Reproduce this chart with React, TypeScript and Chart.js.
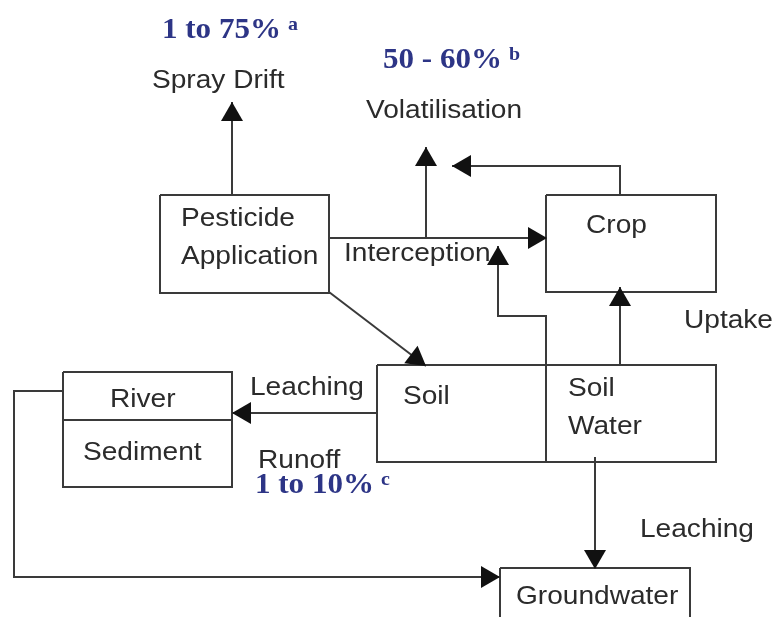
import React, { useEffect, useRef } from "react";
import { Chart, registerables } from "chart.js";

Chart.register(...registerables);

// Diagram coordinates (reference picture units: x 0..774, y 0..617 from top)
const boxNames = ["Pesticide", "Crop", "Soil", "River", "Groundwater"];
const boxRects: number[][] = [
  [160, 195, 329, 293],
  [546, 195, 716, 292],
  [377, 365, 716, 462],
  [63, 372, 232, 487],
  [500, 568, 690, 640],
];
const dividers: number[][][] = [
  [[546, 365], [546, 462]],
  [[63, 420], [232, 420]],
];
const arrowNames = [
  "Spray drift",
  "Interception",
  "Volatilisation (interception)",
  "Volatilisation (crop)",
  "Soil water to interception",
  "Uptake",
  "Application to soil",
  "Leaching to river",
  "River to groundwater",
  "Leaching to groundwater",
];
const arrowPaths: number[][][] = [
  [[232, 195], [232, 102]],
  [[329, 238], [547, 238]],
  [[426, 238], [426, 147]],
  [[620, 195], [620, 166], [452, 166]],
  [[546, 365], [546, 316], [498, 316], [498, 246]],
  [[620, 365], [620, 287]],
  [[329, 292], [426, 366]],
  [[377, 413], [232, 413]],
  [[63, 391], [14, 391], [14, 577], [500, 577]],
  [[595, 457], [595, 569]],
];
const labelTexts = [
  "Spray Drift", "Volatilisation", "Pesticide", "Application", "Interception",
  "Crop", "Uptake", "Leaching", "River", "Sediment", "Soil", "Soil", "Water",
  "Runoff", "Leaching", "Groundwater",
];
const labelX = [152, 366, 181, 181, 344, 586, 684, 250, 110, 83, 403, 568, 568, 258, 640, 516];
const labelY = [81, 111, 219, 257, 254, 226, 321, 388, 400, 453, 397, 389, 427, 461, 530, 597];
const shareTexts = ["1 to 75%", "50 - 60%", "1 to 10%"];
const shareNotes = ["a", "b", "c"];
const shareX = [162, 383, 255];
const shareBaseY = [38, 68, 493];

const LINE = "#3a3a3a";
const TEXT = "#2b2b2b";
const BLUE = "#2d3586";

function rectPath(r: number[]) {
  return [
    { x: r[0], y: r[1] },
    { x: r[2], y: r[1] },
    { x: r[2], y: r[3] },
    { x: r[0], y: r[3] },
    { x: r[0], y: r[1] },
  ];
}

function stretchText(ctx: CanvasRenderingContext2D, t: string, x: number, y: number, sx: number) {
  ctx.save();
  ctx.translate(x, y);
  ctx.scale(sx, 1);
  ctx.fillText(t, 0, 0);
  ctx.restore();
  return ctx.measureText(t).width * sx;
}

const arrowHeadPlugin = {
  id: "arrowHeads",
  afterDatasetsDraw(chart: any) {
    const ctx = chart.ctx;
    chart.data.datasets.forEach((ds: any, i: number) => {
      if (!ds.arrow) return;
      const meta = chart.getDatasetMeta(i);
      const pts = meta.data;
      const n = pts.length;
      const a = pts[n - 2];
      const b = pts[n - 1];
      const ang = Math.atan2(b.y - a.y, b.x - a.x);
      const L = 19;
      const W = 11;
      ctx.save();
      ctx.fillStyle = "#111";
      ctx.beginPath();
      ctx.moveTo(b.x, b.y);
      ctx.lineTo(b.x - L * Math.cos(ang) + W * Math.sin(ang), b.y - L * Math.sin(ang) - W * Math.cos(ang));
      ctx.lineTo(b.x - L * Math.cos(ang) - W * Math.sin(ang), b.y - L * Math.sin(ang) + W * Math.cos(ang));
      ctx.closePath();
      ctx.fill();
      ctx.restore();
    });
  },
};

const labelPlugin = {
  id: "diagramLabels",
  afterDraw(chart: any) {
    const ctx = chart.ctx;
    const xs = chart.scales.x;
    const ys = chart.scales.y;
    ctx.save();
    ctx.textBaseline = "middle";
    ctx.textAlign = "left";
    ctx.fillStyle = TEXT;
    ctx.font = '26px "Liberation Sans", Arial, sans-serif';
    labelTexts.forEach((t, i) => {
      stretchText(ctx, t, xs.getPixelForValue(labelX[i]), ys.getPixelForValue(labelY[i]), 1.08);
    });
    ctx.textBaseline = "alphabetic";
    shareTexts.forEach((t, i) => {
      const x = xs.getPixelForValue(shareX[i]);
      const y = ys.getPixelForValue(shareBaseY[i]);
      ctx.fillStyle = BLUE;
      ctx.font = 'bold 29px "Liberation Serif", "Times New Roman", serif';
      const w = stretchText(ctx, t, x, y, 1.07);
      ctx.font = 'bold 19px "Liberation Serif", "Times New Roman", serif';
      stretchText(ctx, shareNotes[i], x + w + 7, y - 8, 1.05);
    });
    ctx.restore();
  },
};

export default function App() {
  const ref = useRef<HTMLCanvasElement | null>(null);
  useEffect(() => {
    document.body.style.margin = "0";
    document.body.style.background = "#ffffff";
    const datasets: any[] = [];
    boxRects.forEach((r, i) => {
      datasets.push({
        label: boxNames[i],
        data: rectPath(r),
        showLine: true,
        borderColor: LINE,
        borderWidth: 2,
        pointRadius: 0,
        fill: false,
        tension: 0,
      });
    });
    dividers.forEach((d, i) => {
      datasets.push({
        label: "divider " + i,
        data: d.map((p) => ({ x: p[0], y: p[1] })),
        showLine: true,
        borderColor: LINE,
        borderWidth: 2,
        pointRadius: 0,
        fill: false,
      });
    });
    arrowPaths.forEach((p, i) => {
      datasets.push({
        label: arrowNames[i],
        data: p.map((q) => ({ x: q[0], y: q[1] })),
        showLine: true,
        borderColor: LINE,
        borderWidth: 2,
        pointRadius: 0,
        fill: false,
        arrow: true,
      });
    });
    const chart = new Chart(ref.current as HTMLCanvasElement, {
      type: "scatter",
      data: { datasets },
      options: {
        animation: false,
        responsive: false,
        maintainAspectRatio: false,
        layout: { padding: 0 },
        plugins: { legend: { display: false }, tooltip: { enabled: false } },
        scales: {
          x: { type: "linear", min: 0, max: 774, display: false },
          y: { type: "linear", min: 0, max: 617, reverse: true, display: false },
        },
        clip: false as any,
      },
      plugins: [arrowHeadPlugin, labelPlugin],
    } as any);
    return () => chart.destroy();
  }, []);
  return (
    <div style={{ position: "fixed", left: 0, top: 0, width: 774, height: 617, background: "#fff" }}>
      <canvas ref={ref} width={774} height={617} style={{ width: 774, height: 617 }} />
    </div>
  );
}
